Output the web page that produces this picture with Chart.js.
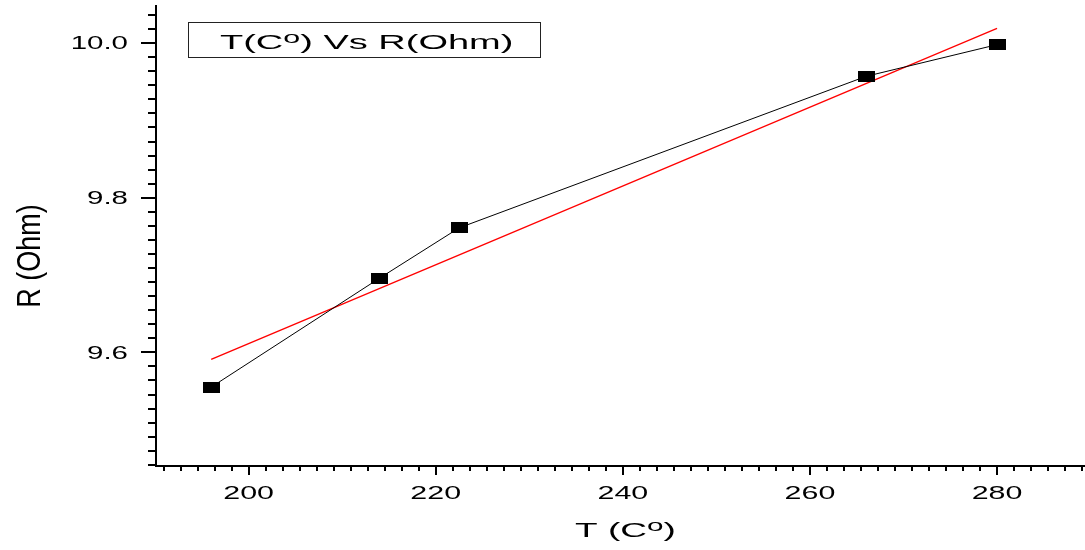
<!DOCTYPE html>
<html>
<head>
<meta charset="utf-8">
<script src="https://cdn.jsdelivr.net/npm/chart.js@4.4.1/dist/chart.umd.min.js"></script>
<style>
  body { margin: 0; background: #fff; }
  #wrap { width: 1085px; height: 550px; }
</style>
</head>
<body>
<div id="wrap"><canvas id="chart" width="1085" height="550"></canvas></div>
<script>
// --- data -------------------------------------------------------------
var tempC = [196, 214, 222.5, 266, 280];          // T (C°)
var resOhm = [9.555, 9.696, 9.761, 9.957, 9.998]; // R (Ohm)
var fitT = [196, 280];                            // red fit line ends
var fitR = [9.591, 10.019];

var xMajor = [200, 220, 240, 260, 280];
var yMajor = [9.6, 9.8, 10.0];
var xLabels = ["200", "220", "240", "260", "280"];
var yLabels = ["9.6", "9.8", "10.0"];

var FONT = '"Liberation Sans", Arial, sans-serif';

function toPoints(xs, ys) {
    return xs.map(function (x, i) { return {x: x, y: ys[i]}; });
}

// wide black rectangle marker
function makeMarker() {
    var c = document.createElement("canvas");
    c.width = 17;
    c.height = 11;
    var g = c.getContext("2d");
    g.fillStyle = "#000";
    g.fillRect(0, 0, 17, 11);
    return c;
}

// text that is drawn stretched sideways like the original export
function wideText(ctx, text, x, y, size, sx, align, base) {
    ctx.save();
    ctx.translate(x, y);
    ctx.scale(sx, 1);
    ctx.font = size + "px " + FONT;
    ctx.textAlign = align;
    ctx.textBaseline = base;
    ctx.fillStyle = "#000";
    ctx.fillText(text, 0, 0);
    ctx.restore();
}

// runs of text, some of them superscript
function runText(ctx, runs, x, y, size, sx) {
    ctx.save();
    ctx.translate(x, y);
    ctx.scale(sx, 1);
    ctx.fillStyle = "#000";
    ctx.textBaseline = "alphabetic";
    ctx.textAlign = "left";
    var cx = 0;
    runs.forEach(function (r) {
        var s = r.sup ? size * 0.8 : size;
        ctx.font = s + "px " + FONT;
        ctx.fillText(r.t, cx, r.sup ? -size * 0.32 : 0);
        cx += ctx.measureText(r.t).width;
    });
    ctx.restore();
}

function minorSteps(majors, step, lo, hi) {
    var out = [];
    var start = majors[0];
    for (var v = start; v >= lo - 1e-9; v -= step) out.push(v);
    for (var w = start + step; w <= hi + 1e-9; w += step) out.push(w);
    return out;
}

var originAxes = {
    id: "originAxes",
    afterDraw: function (chart) {
        var ctx = chart.ctx;
        var area = chart.chartArea;
        var xs = chart.scales.x;
        var ys = chart.scales.y;

        ctx.save();
        ctx.strokeStyle = "#000";
        ctx.lineWidth = 2;

        // x ticks: 10 minor ticks between majors
        minorSteps(xMajor, 20 / 11, xs.min, xs.max).forEach(function (v) {
            var px = Math.round(xs.getPixelForValue(v));
            var major = xMajor.some(function (m) { return Math.abs(m - v) < 1e-6; });
            ctx.beginPath();
            ctx.moveTo(px, area.bottom);
            ctx.lineTo(px, area.bottom + (major ? 9 : 5));
            ctx.stroke();
        });

        // y ticks
        minorSteps(yMajor, 0.2 / 11, ys.min, ys.max).forEach(function (v) {
            var py = Math.round(ys.getPixelForValue(v));
            var major = yMajor.some(function (m) { return Math.abs(m - v) < 1e-6; });
            ctx.beginPath();
            ctx.moveTo(area.left, py);
            ctx.lineTo(area.left - (major ? 15 : 8), py);
            ctx.stroke();
        });
        ctx.restore();

        // tick labels
        xMajor.forEach(function (v, i) {
            wideText(ctx, xLabels[i], xs.getPixelForValue(v), 499, 19, 1.6, "center", "alphabetic");
        });
        yMajor.forEach(function (v, i) {
            wideText(ctx, yLabels[i], 128, ys.getPixelForValue(v) + 1, 19, 1.55, "right", "middle");
        });

        // axis titles
        runText(ctx, [{t: "T (C"}, {t: "o", sup: true}, {t: ")"}], 575, 537, 20, 1.85);

        ctx.save();
        ctx.translate(40, 256);
        ctx.rotate(-Math.PI / 2);
        ctx.scale(1, 1.25);
        ctx.font = "27px " + FONT;
        ctx.textAlign = "center";
        ctx.textBaseline = "alphabetic";
        ctx.fillStyle = "#000";
        ctx.fillText("R (Ohm)", 0, 0);
        ctx.restore();

        // legend box
        ctx.save();
        ctx.strokeStyle = "#222";
        ctx.lineWidth = 1;
        ctx.strokeRect(188.5, 22.5, 352, 35);
        ctx.restore();
        runText(ctx, [{t: "T(C"}, {t: "o", sup: true}, {t: ") Vs R(Ohm)"}], 220, 49, 20, 1.9);
    }
};

var chart = new Chart(document.getElementById("chart"), {
    type: "scatter",
    data: {
        datasets: [
            {
                label: "T(C°) Vs R(Ohm)",
                data: toPoints(tempC, resOhm),
                showLine: true,
                borderColor: "#000",
                borderWidth: 1,
                pointStyle: makeMarker(),
                pointRadius: 6,
                pointHoverRadius: 6
            },
            {
                label: "fit",
                data: toPoints(fitT, fitR),
                showLine: true,
                borderColor: "#ff0000",
                borderWidth: 1.3,
                pointRadius: 0,
                pointHoverRadius: 0
            }
        ]
    },
    options: {
        responsive: false,
        devicePixelRatio: 1,
        animation: false,
        layout: {autoPadding: false, padding: {left: 156, right: 0, top: 6, bottom: 84}},
        plugins: {
            legend: {display: false},
            tooltip: {enabled: false}
        },
        scales: {
            x: {
                type: "linear",
                min: 190.1,
                max: 289.4,
                grid: {display: false, drawTicks: false},
                border: {display: true, color: "#000", width: 2},
                ticks: {display: false}
            },
            y: {
                type: "linear",
                min: 9.453,
                max: 10.048,
                grid: {display: false, drawTicks: false},
                border: {display: true, color: "#000", width: 2},
                ticks: {display: false}
            }
        }
    },
    plugins: [originAxes]
});
</script>
</body>
</html>
